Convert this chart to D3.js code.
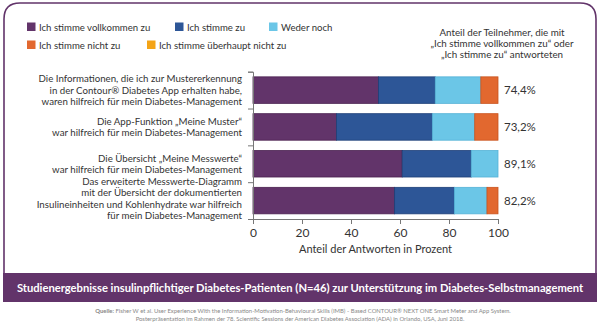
<!DOCTYPE html>
<html lang="de">
<head>
<meta charset="utf-8">
<script src="https://d3js.org/d3.v7.min.js"></script>
<style>
  body { margin: 0; background: #fff; }
  svg { font-family: Lato, "Open Sans", sans-serif; }
</style>
</head>
<body>
<div id="chart"></div>
<script>
const w = 600, h = 329;

const series = ["Ich stimme vollkommen zu", "Ich stimme zu", "Weder noch", "Ich stimme nicht zu", "Ich stimme überhaupt nicht zu"];
const colors = ["#62346a", "#2d5697", "#6bc6e7", "#e2682f", "#f4a417"];
const strokes = ["#4a2150", "#1d3f78", "#55b2d6", "#c9531d", "#d88a00"];

const categories = [
  ["Die Informationen, die ich zur Mustererkennung", "in der Contour® Diabetes App erhalten habe,", "waren hilfreich für mein Diabetes-Management"],
  ["Die App-Funktion „Meine Muster“", "war hilfreich für mein Diabetes-Management"],
  ["Die Übersicht „Meine Messwerte“", "war hilfreich für mein Diabetes-Management"],
  ["Das erweiterte Messwerte-Diagramm", "mit der Übersicht der dokumentierten", "Insulineinheiten und Kohlenhydrate war hilfreich", "für mein Diabetes-Management"]
];
const vollkommen = [51.2, 34.1, 60.9, 57.8];
const zu = [23.2, 39.1, 28.2, 24.4];
const weder = [18.6, 17.3, 10.9, 13.3];
const nicht = [7.0, 9.5, 0, 4.5];
const ueberhaupt = [0, 0, 0, 0];
const totals = ["74,4%", "73,2%", "89,1%", "82,2%"];
const xTicks = [0, 20, 40, 60, 80, 100];

const rows = categories.map((c, i) => ({
  idx: i, label: c, total: totals[i],
  values: [vollkommen[i], zu[i], weder[i], nicht[i], ueberhaupt[i]]
}));

const svg = d3.select("#chart").append("svg").attr("width", w).attr("height", h);
const purple = "#62346a";
const textCol = "#333";

// frame
svg.append("path")
  .attr("d", "M4,301 L4,19 Q4,3 20,3 L580,3 Q596,3 596,19 L596,301")
  .attr("fill", "none").attr("stroke", purple).attr("stroke-width", 1.6);
svg.append("rect").attr("x", 3).attr("y", 273).attr("width", 594).attr("height", 29).attr("fill", purple);
svg.append("text").attr("x", 300).attr("y", 292).attr("text-anchor", "middle")
  .attr("fill", "#fff").attr("font-weight", "bold").attr("font-size", 11.2)
  .text("Studienergebnisse insulinpflichtiger Diabetes-Patienten (N=46) zur Unterstützung im Diabetes-Selbstmanagement");

const src = svg.append("g").attr("fill", "#888").attr("font-size", 5.9).attr("text-anchor", "middle");
const s1 = src.append("text").attr("x", 303).attr("y", 313);
s1.append("tspan").attr("font-weight", "bold").text("Quelle: ");
s1.append("tspan").text("Fisher W et al. User Experience With the Information-Motivation-Behavioural Skills (IMB) - Based CONTOUR® NEXT ONE Smart Meter and App System.");
src.append("text").attr("x", 300).attr("y", 321)
  .text("Posterpräsentation im Rahmen der 78. Scientific Sessions der American Diabetes Association (ADA) in Orlando, USA, Juni 2018.");

// legend
const legendPos = [[27, 27], [175, 27], [269, 27], [27, 45], [147, 45]];
const lg = svg.append("g").selectAll("g").data(series).join("g")
  .attr("transform", (d, i) => `translate(${legendPos[i][0]},${legendPos[i][1]})`);
lg.append("rect").attr("x", 0).attr("y", -4.5).attr("width", 8.5).attr("height", 8.5)
  .attr("fill", (d, i) => colors[i]);
lg.append("text").attr("x", 12).attr("y", 3.5).attr("font-size", 9.6).attr("fill", textCol).text(d => d);

// right header
const hdr = ["Anteil der Teilnehmer, die mit", "„Ich stimme vollkommen zu“ oder", "„Ich stimme zu“ antworteten"];
svg.append("g").selectAll("text").data(hdr).join("text")
  .attr("x", 502).attr("y", (d, i) => 35.5 + i * 11.3)
  .attr("text-anchor", "middle").attr("font-size", 9.8).attr("fill", textCol).text(d => d);

// scales
const x = d3.scaleLinear().domain([0, 100]).range([253, 498]);
const yb = d3.scaleBand().domain(d3.range(4)).range([71.7, 219]).paddingInner(0.28).paddingOuter(0.14);
const yl = d3.scaleLinear().domain([0, 4]).range([71.7, 219]);

// bars
const stack = d3.stack().keys(d3.range(5)).value((d, k) => d.values[k]);
const layers = stack(rows);
svg.append("g").selectAll("g").data(layers).join("g")
  .attr("fill", (d, i) => colors[i]).attr("stroke", (d, i) => strokes[i]).attr("stroke-width", 0.8)
  .selectAll("rect").data(d => d.filter(s => s[1] - s[0] > 0)).join("rect")
  .attr("x", d => x(d[0])).attr("width", d => x(d[1]) - x(d[0]))
  .attr("y", d => yb(d.data.idx)).attr("height", yb.bandwidth());

// axes
const xAxis = svg.append("g").attr("transform", "translate(0,219)")
  .call(d3.axisBottom(x).tickValues(xTicks).tickSize(5).tickPadding(4));
xAxis.selectAll("text").attr("font-size", 12).attr("fill", textCol).attr("font-family", "Lato, sans-serif");
const yAxis = svg.append("g").attr("transform", "translate(253,0)")
  .call(d3.axisLeft(yl).tickValues(d3.range(5)).tickFormat("").tickSize(5));
[xAxis, yAxis].forEach(a => {
  a.select(".domain").attr("stroke", "#777");
  a.selectAll(".tick line").attr("stroke", "#777");
});

svg.append("text").attr("x", x(50)).attr("y", 252.5).attr("text-anchor", "middle")
  .attr("font-size", 11).attr("fill", textCol).text("Anteil der Antworten in Prozent");

// category labels
svg.append("g").selectAll("text").data(rows).join("text")
  .attr("text-anchor", "end").attr("font-size", 9.7).attr("fill", textCol)
  .each(function (d) {
    const n = d.label.length;
    const cy = yb(d.idx) + yb.bandwidth() / 2 - (n === 4 ? 2 : 0);
    d3.select(this).selectAll("tspan").data(d.label).join("tspan")
      .attr("x", 242).attr("y", (l, i) => cy + 3.5 + (i - (n - 1) / 2) * 11.2)
      .text(l => l);
  });

// totals
svg.append("g").selectAll("text").data(rows).join("text")
  .attr("x", 504).attr("y", d => yb(d.idx) + yb.bandwidth() / 2 + 4)
  .attr("font-size", 11.5).attr("fill", textCol).text(d => d.total);
</script>
</body>
</html>
